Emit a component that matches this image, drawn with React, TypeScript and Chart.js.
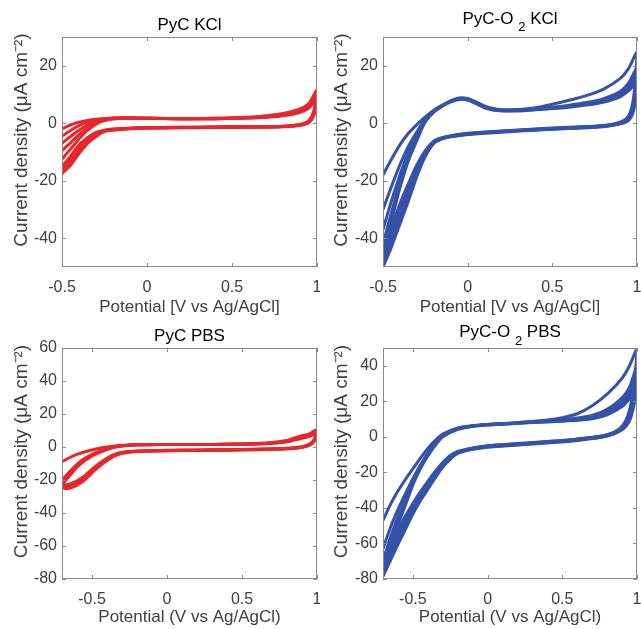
import React, { useEffect, useRef } from 'react';
import { Chart, registerables } from 'chart.js';

Chart.register(...registerables);

const FONT = '"Liberation Sans", Arial, Helvetica, sans-serif';
const RED = '#E8262B';
const BLUE = '#3552A8';
const TEXT = '#404040';
const BOX = '#8a8a8a';

// ---------- shared tick values / labels ----------
const kclXTicks = [-0.5, 0, 0.5, 1];
const kclXLabels = ['-0.5', '0', '0.5', '1'];
const kclYTicks = [-40, -20, 0, 20];
const kclYLabels = ['-40', '-20', '0', '20'];
const pbsXTicks = [-0.5, 0, 0.5, 1];
const pbsXLabels = ['-0.5', '0', '0.5', '1'];
const pycPbsYTicks = [-80, -60, -40, -20, 0, 20, 40, 60];
const pycPbsYLabels = ['-80', '-60', '-40', '-20', '0', '20', '40', '60'];
const o2PbsYTicks = [-80, -60, -40, -20, 0, 20, 40];
const o2PbsYLabels = ['-80', '-60', '-40', '-20', '0', '20', '40'];

// ---------- PyC KCl (potential V, current density µA cm-2) ----------
const pycKclPotential = [-0.5, -0.45, -0.4, -0.35, -0.3, -0.25, -0.2, -0.1, 0, 0.2, 0.4, 0.6, 0.7, 0.8, 0.9, 0.95, 1.0,
  0.98, 0.95, 0.9, 0.8, 0.6, 0.4, 0.2, 0, -0.1, -0.2, -0.25, -0.3, -0.35, -0.4, -0.45, -0.5];
const pycKclCycle1 = [-2, -0.6, 0.4, 1.0, 1.4, 1.6, 1.8, 1.8, 1.7, 1.6, 1.7, 2.1, 2.6, 3.4, 5.0, 6.8, 11.5,
  4.0, 0.8, -0.4, -1.0, -1.2, -1.3, -1.4, -1.5, -1.7, -2.0, -2.4, -3.2, -5.0, -7.5, -11.5, -15.0];
const pycKclCycle2 = [-4.5, -2.5, -0.8, 0.4, 1.1, 1.5, 1.7, 1.8, 1.7, 1.6, 1.7, 2.0, 2.4, 3.1, 4.6, 6.2, 10.5,
  3.5, 0.6, -0.5, -1.0, -1.2, -1.3, -1.4, -1.5, -1.7, -2.1, -2.5, -3.5, -5.5, -8.3, -12.3, -15.8];
const pycKclCycle3 = [-7, -4.6, -2.4, -0.6, 0.7, 1.3, 1.7, 1.8, 1.7, 1.6, 1.6, 1.9, 2.3, 2.9, 4.2, 5.8, 9.5,
  3.0, 0.4, -0.6, -1.1, -1.3, -1.4, -1.5, -1.6, -1.8, -2.2, -2.6, -3.8, -6.0, -9.0, -13.0, -16.4];
const pycKclCycle4 = [-9.5, -6.8, -4.0, -1.6, 0.2, 1.1, 1.6, 1.8, 1.7, 1.6, 1.6, 1.9, 2.2, 2.8, 4.0, 5.5, 9.0,
  2.8, 0.3, -0.7, -1.1, -1.3, -1.4, -1.5, -1.6, -1.8, -2.3, -2.7, -4.2, -6.5, -9.8, -13.8, -17.0];
const pycKclCycle5 = [-12.5, -9.0, -5.5, -2.5, -0.3, 0.9, 1.5, 1.8, 1.7, 1.6, 1.6, 1.8, 2.1, 2.6, 3.8, 5.2, 8.5,
  2.5, 0.2, -0.7, -1.2, -1.4, -1.5, -1.6, -1.7, -1.9, -2.4, -2.8, -4.6, -7.0, -10.6, -14.6, -17.5];

// ---------- PyC-O2 KCl ----------
const o2KclPotential = [-0.5, -0.45, -0.4, -0.35, -0.3, -0.25, -0.2, -0.15, -0.1, -0.05, 0, 0.05, 0.1, 0.15, 0.2, 0.3, 0.4, 0.5, 0.6, 0.7, 0.8, 0.9, 0.95, 1.0,
  0.98, 0.95, 0.9, 0.8, 0.6, 0.4, 0.2, 0, -0.1, -0.15, -0.2, -0.25, -0.3, -0.35, -0.4, -0.45, -0.5];
const o2KclCycle1 = [-18, -12.5, -7.5, -3.5, -0.5, 2.2, 4.5, 6.3, 7.8, 8.8, 8.6, 7.4, 6.0, 5.1, 4.7, 4.8, 5.4, 6.6, 8.0, 9.6, 11.8, 15.5, 19, 24.5,
  9, 2.5, 0.4, -0.8, -1.4, -2.0, -2.7, -3.5, -4.3, -5.0, -6.2, -9.5, -14.5, -21, -28, -36, -44];
const o2KclCycle2 = [-30, -22, -14.5, -8, -3, 1.5, 4.3, 6.2, 7.7, 8.6, 8.4, 7.2, 5.8, 5.0, 4.6, 4.6, 5.0, 5.6, 6.3, 7.2, 8.5, 11, 14, 19,
  7, 2.0, 0.2, -0.9, -1.5, -2.1, -2.8, -3.6, -4.4, -5.1, -6.4, -10, -15.5, -22.5, -30, -38, -46];
const o2KclCycle3 = [-37, -27, -18, -10, -4, 1.0, 4.1, 6.1, 7.6, 8.5, 8.3, 7.0, 5.6, 4.8, 4.5, 4.5, 4.9, 5.4, 6.0, 6.8, 8.0, 10.2, 12.8, 17,
  6, 1.6, 0, -1.0, -1.6, -2.2, -2.9, -3.7, -4.5, -5.2, -6.6, -10.5, -16.5, -24, -31.5, -39.5, -47.5];
const o2KclCycle4 = [-42, -31, -20.5, -11.5, -5, 0.8, 4.0, 6.0, 7.5, 8.4, 8.2, 6.9, 5.5, 4.7, 4.4, 4.4, 4.8, 5.2, 5.8, 6.5, 7.6, 9.6, 12, 15.5,
  5, 1.3, -0.1, -1.1, -1.7, -2.3, -3.0, -3.8, -4.6, -5.3, -6.8, -11, -17.5, -25.5, -33, -41, -49];
const o2KclCycle5 = [-46, -34, -22.5, -13, -6, 0.5, 3.9, 5.9, 7.4, 8.3, 8.1, 6.8, 5.4, 4.6, 4.3, 4.3, 4.7, 5.1, 5.6, 6.3, 7.3, 9.2, 11.3, 14,
  4.5, 1.0, -0.2, -1.2, -1.8, -2.4, -3.1, -3.9, -4.7, -5.4, -7.0, -11.5, -18.5, -27, -35, -43, -50];

// ---------- PyC PBS ----------
const pycPbsPotential = [-0.7, -0.65, -0.6, -0.55, -0.5, -0.45, -0.4, -0.35, -0.3, -0.2, 0, 0.2, 0.4, 0.6, 0.7, 0.8, 0.85, 0.9, 0.95, 1.0,
  0.98, 0.95, 0.9, 0.8, 0.6, 0.4, 0.2, 0, -0.2, -0.3, -0.35, -0.4, -0.45, -0.5, -0.55, -0.6, -0.65, -0.68, -0.7];
const pycPbsCycle1 = [-9, -6.5, -4.5, -3, -1.8, -0.8, 0, 0.6, 1.0, 1.4, 1.5, 1.5, 1.7, 2.1, 2.7, 4.0, 5.5, 6.8, 8.0, 10.5,
  4.5, 1.8, 0.2, -0.8, -1.3, -1.6, -1.8, -2.0, -2.4, -3.2, -4.5, -6.8, -9.8, -13.5, -17.5, -20.5, -22.5, -22.8, -22];
const pycPbsCycle2 = [-20, -15, -10.5, -7, -4.5, -2.5, -1.0, 0.2, 0.8, 1.3, 1.5, 1.5, 1.7, 2.0, 2.5, 3.8, 5.2, 6.5, 7.5, 9.5,
  4.0, 1.5, 0, -0.9, -1.4, -1.7, -1.9, -2.1, -2.5, -3.4, -4.8, -7.2, -10.4, -14.3, -18.4, -21.5, -23.5, -23.8, -23];
const pycPbsCycle3 = [-22, -16.5, -11.5, -7.8, -5, -3, -1.3, 0, 0.7, 1.3, 1.5, 1.5, 1.6, 1.9, 2.3, 3.4, 4.6, 5.8, 7.0, 9.0,
  3.6, 1.3, -0.1, -1.0, -1.5, -1.8, -2.0, -2.2, -2.6, -3.6, -5.1, -7.7, -11.0, -15.0, -19.2, -22.4, -24.4, -24.6, -24];
const pycPbsCycle4 = [-23, -17.5, -12.3, -8.4, -5.4, -3.3, -1.5, -0.1, 0.6, 1.3, 1.5, 1.5, 1.6, 1.8, 2.2, 3.1, 4.2, 5.3, 6.5, 8.5,
  3.3, 1.1, -0.2, -1.1, -1.6, -1.9, -2.1, -2.3, -2.7, -3.8, -5.4, -8.2, -11.6, -15.7, -20.0, -23.2, -25.0, -25.2, -24.5];

// ---------- PyC-O2 PBS ----------
const o2PbsPotential = [-0.7, -0.65, -0.6, -0.55, -0.5, -0.45, -0.4, -0.35, -0.3, -0.2, -0.1, 0, 0.2, 0.4, 0.5, 0.6, 0.7, 0.8, 0.9, 0.95, 1.0,
  0.98, 0.95, 0.9, 0.8, 0.6, 0.4, 0.2, 0, -0.1, -0.2, -0.25, -0.3, -0.35, -0.4, -0.45, -0.5, -0.55, -0.6, -0.65, -0.7];
const o2PbsCycle1 = [-47, -38, -30.5, -24, -18, -12, -6.5, -2, 1.5, 5, 6.3, 7.0, 8.0, 9.5, 10.8, 13, 17.5, 24, 33, 40, 50,
  30, 15, 6, 1.2, -1.2, -2.6, -3.8, -5.0, -6.2, -8.2, -10.5, -14.5, -19.5, -25, -31, -37.5, -44.5, -52, -60, -68];
const o2PbsCycle2 = [-63, -51, -41, -32, -23.5, -16, -9, -3.5, 1, 4.8, 6.2, 7.0, 8.0, 9.0, 9.8, 10.6, 12, 15.5, 22, 28, 40,
  25, 12, 5, 1.0, -1.4, -2.8, -4.0, -5.2, -6.4, -8.5, -11, -15, -20.5, -26.5, -32.5, -39.5, -47, -55, -63.5, -72];
const o2PbsCycle3 = [-70, -56.5, -45, -35, -25.5, -17, -9.8, -4, 0.6, 4.6, 6.1, 6.9, 7.8, 8.8, 9.4, 10.0, 11.2, 14.2, 20, 25.5, 36,
  22, 11, 4.6, 0.8, -1.6, -3.0, -4.2, -5.4, -6.6, -8.8, -11.5, -15.8, -21.5, -27.5, -34, -41, -49, -57.5, -66, -75];
const o2PbsCycle4 = [-74, -60, -47.5, -37, -26, -17.5, -10.3, -4.4, 0.3, 4.4, 6.0, 6.8, 7.7, 8.6, 9.1, 9.6, 10.6, 13.2, 18.5, 23.5, 32,
  20, 10, 4.2, 0.6, -1.8, -3.2, -4.4, -5.6, -6.8, -9.0, -12, -16.5, -22.5, -28.5, -35, -42.5, -50.5, -59, -68, -77];
const o2PbsCycle5 = [-77, -62.5, -49.5, -38.5, -27, -18, -10.8, -4.8, 0, 4.2, 5.9, 6.7, 7.6, 8.4, 8.8, 9.3, 10.2, 12.4, 17, 21.5, 28,
  18, 9, 4.0, 0.4, -2.0, -3.4, -4.6, -5.8, -7.0, -9.3, -12.5, -17, -23, -29.5, -36, -43.5, -52, -60.5, -69.5, -78.5];

const Y_TITLE = 'Current density (\u03BCA cm\u207B\u00B2)';

const panelDecor = {
  id: 'panelDecor',
  afterDraw(chart: any, _args: any, opts: any) {
    const { ctx, chartArea: a, scales } = chart;
    ctx.save();
    // box
    ctx.strokeStyle = BOX;
    ctx.lineWidth = 1;
    ctx.strokeRect(a.left + 0.5, a.top + 0.5, a.right - a.left - 1, a.bottom - a.top - 1);
    // inward ticks on all four sides
    const tl = 4;
    ctx.beginPath();
    for (const t of scales.x.ticks) {
      const px = Math.round(scales.x.getPixelForValue(t.value)) + 0.5;
      ctx.moveTo(px, a.bottom); ctx.lineTo(px, a.bottom - tl);
      ctx.moveTo(px, a.top); ctx.lineTo(px, a.top + tl);
    }
    for (const t of scales.y.ticks) {
      const py = Math.round(scales.y.getPixelForValue(t.value)) + 0.5;
      ctx.moveTo(a.left, py); ctx.lineTo(a.left + tl, py);
      ctx.moveTo(a.right, py); ctx.lineTo(a.right - tl, py);
    }
    ctx.stroke();

    // title with optional subscript
    const segs = opts.title as { text: string; sub?: boolean }[];
    const mainFont = `17px ${FONT}`;
    const subFont = `13px ${FONT}`;
    let total = 0;
    const widths = segs.map((s) => {
      ctx.font = s.sub ? subFont : mainFont;
      const w = ctx.measureText(s.text).width;
      total += w;
      return w;
    });
    let x = (a.left + a.right) / 2 - total / 2;
    ctx.fillStyle = '#000';
    ctx.textAlign = 'left';
    ctx.textBaseline = 'alphabetic';
    segs.forEach((s, i) => {
      ctx.font = s.sub ? subFont : mainFont;
      ctx.fillText(s.text, x, opts.titleBaseline + (s.sub ? opts.subDrop : 0));
      x += widths[i];
    });

    // y axis title
    ctx.translate(opts.yTitleX, (a.top + a.bottom) / 2 + opts.yTitleShift);
    ctx.rotate(-Math.PI / 2);
    ctx.font = `19px ${FONT}`;
    ctx.fillStyle = TEXT;
    ctx.textAlign = 'center';
    ctx.textBaseline = 'middle';
    ctx.fillText(Y_TITLE, 0, 0);
    ctx.restore();
  },
};

type PanelDef = {
  left: number; top: number; w: number; h: number;
  padTop: number; padRight: number; yAxisWidth: number; xAxisHeight: number; xTitlePadBottom: number;
  xMin: number; xMax: number; yMin: number; yMax: number;
  xTicks: number[]; xLabels: string[]; yTicks: number[]; yLabels: string[];
  xTitle: string; title: { text: string; sub?: boolean }[]; titleBaseline: number; subDrop: number;
  potential: number[]; cycles: number[][]; color: string;
};

const panels: PanelDef[] = [
  {
    left: 0, top: 0, w: 320, h: 316, padTop: 37, padRight: 3, yAxisWidth: 62, xAxisHeight: 49, xTitlePadBottom: 0,
    xMin: -0.5, xMax: 1, yMin: -50, yMax: 30,
    xTicks: kclXTicks, xLabels: kclXLabels, yTicks: kclYTicks, yLabels: kclYLabels,
    xTitle: 'Potential [V vs Ag/AgCl]', title: [{ text: 'PyC KCl' }], titleBaseline: 30, subDrop: 0,
    potential: pycKclPotential, cycles: [pycKclCycle1, pycKclCycle2, pycKclCycle3, pycKclCycle4, pycKclCycle5], color: RED,
  },
  {
    left: 320, top: 0, w: 321, h: 316, padTop: 37, padRight: 4, yAxisWidth: 63, xAxisHeight: 49, xTitlePadBottom: 0,
    xMin: -0.5, xMax: 1, yMin: -50, yMax: 30,
    xTicks: kclXTicks, xLabels: kclXLabels, yTicks: kclYTicks, yLabels: kclYLabels,
    xTitle: 'Potential [V vs Ag/AgCl]', title: [{ text: 'PyC-O ' }, { text: '2', sub: true }, { text: ' KCl' }], titleBaseline: 23.5, subDrop: 7,
    potential: o2KclPotential, cycles: [o2KclCycle1, o2KclCycle2, o2KclCycle3, o2KclCycle4, o2KclCycle5], color: BLUE,
  },
  {
    left: 0, top: 316, w: 320, h: 313, padTop: 32, padRight: 3, yAxisWidth: 62, xAxisHeight: 50, xTitlePadBottom: 3,
    xMin: -0.7, xMax: 1, yMin: -80, yMax: 60,
    xTicks: pbsXTicks, xLabels: pbsXLabels, yTicks: pycPbsYTicks, yLabels: pycPbsYLabels,
    xTitle: 'Potential (V vs Ag/AgCl)', title: [{ text: 'PyC PBS' }], titleBaseline: 24.7, subDrop: 0,
    potential: pycPbsPotential, cycles: [pycPbsCycle1, pycPbsCycle2, pycPbsCycle3, pycPbsCycle4], color: RED,
  },
  {
    left: 320, top: 316, w: 321, h: 313, padTop: 32, padRight: 4, yAxisWidth: 63, xAxisHeight: 50, xTitlePadBottom: 3,
    xMin: -0.7, xMax: 1, yMin: -80, yMax: 50,
    xTicks: pbsXTicks, xLabels: pbsXLabels, yTicks: o2PbsYTicks, yLabels: o2PbsYLabels,
    xTitle: 'Potential (V vs Ag/AgCl)', title: [{ text: 'PyC-O ' }, { text: '2', sub: true }, { text: ' PBS' }], titleBaseline: 20.7, subDrop: 8,
    potential: o2PbsPotential, cycles: [o2PbsCycle1, o2PbsCycle2, o2PbsCycle3, o2PbsCycle4, o2PbsCycle5], color: BLUE,
  },
];

function Panel({ p }: { p: PanelDef }) {
  const ref = useRef<HTMLCanvasElement>(null);
  useEffect(() => {
    const tickFont = { family: FONT, size: 16 };
    const chart = new Chart(ref.current as HTMLCanvasElement, {
      type: 'scatter',
      data: {
        datasets: p.cycles.map((cyc) => ({
          data: p.potential.map((x, i) => ({ x, y: cyc[i] })),
          showLine: true,
          borderColor: p.color,
          backgroundColor: p.color,
          borderWidth: 3,
          pointRadius: 0,
          pointHoverRadius: 0,
          tension: 0.3,
          fill: false,
          clip: 0,
        })),
      },
      plugins: [panelDecor],
      options: {
        animation: false,
        responsive: false,
        devicePixelRatio: 1,
        events: [],
        layout: { padding: { left: 0, right: p.padRight, top: p.padTop, bottom: 0 } },
        plugins: {
          legend: { display: false },
          tooltip: { enabled: false },
          title: { display: false },
          panelDecor: {
            title: p.title, titleBaseline: p.titleBaseline, subDrop: p.subDrop,
            yTitleX: 22, yTitleShift: -12,
          },
        } as any,
        scales: {
          x: {
            type: 'linear', position: 'bottom', min: p.xMin, max: p.xMax,
            grid: { display: false, drawTicks: false },
            border: { display: false },
            ticks: {
              font: tickFont, color: TEXT, padding: 11, autoSkip: false, maxRotation: 0, minRotation: 0,
              callback: (_v: any, i: number) => p.xLabels[i],
            },
            afterBuildTicks: (s: any) => { s.ticks = p.xTicks.map((value) => ({ value })); },
            afterFit: (s: any) => { s.height = p.xAxisHeight; s.paddingLeft = 0; s.paddingRight = 0; },
            title: {
              display: true, text: p.xTitle, color: TEXT,
              font: { family: FONT, size: 17, lineHeight: 1 },
              padding: { top: 0, bottom: p.xTitlePadBottom },
            },
          },
          y: {
            type: 'linear', position: 'left', min: p.yMin, max: p.yMax,
            grid: { display: false, drawTicks: false },
            border: { display: false },
            ticks: {
              font: tickFont, color: TEXT, padding: 5, autoSkip: false,
              callback: (_v: any, i: number) => p.yLabels[i],
            },
            afterBuildTicks: (s: any) => { s.ticks = p.yTicks.map((value) => ({ value })); },
            afterFit: (s: any) => { s.width = p.yAxisWidth; s.paddingTop = 0; s.paddingBottom = 0; },
          },
        } as any,
      },
    } as any);
    return () => chart.destroy();
  }, [p]);
  return (
    <canvas
      ref={ref}
      width={p.w}
      height={p.h}
      style={{ position: 'absolute', left: p.left, top: p.top, width: p.w, height: p.h }}
    />
  );
}

export default function App() {
  return (
    <div style={{ position: 'fixed', left: 0, top: 0, width: 641, height: 629, background: '#fff' }}>
      {panels.map((p, i) => (
        <Panel key={i} p={p} />
      ))}
    </div>
  );
}
